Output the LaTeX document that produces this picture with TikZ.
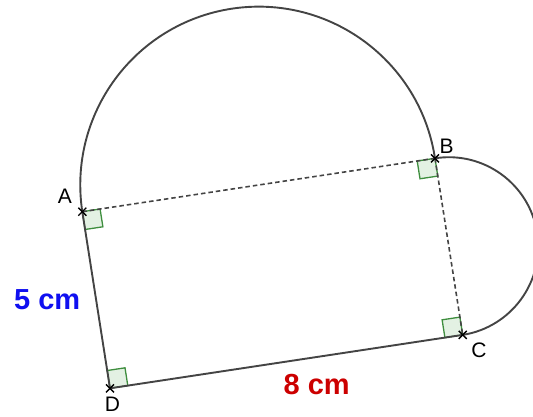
\documentclass[tikz,border=0pt]{standalone}
\usepackage{fontspec}
\setmainfont{Liberation Sans}
\usetikzlibrary{calc}
\definecolor{linegray}{HTML}{444444}
\definecolor{sqgreen}{HTML}{3E8E3E}
\definecolor{sqfill}{HTML}{E3F1E3}
\definecolor{myblue}{HTML}{1010F0}
\definecolor{myred}{HTML}{CC0000}
\begin{document}
\begin{tikzpicture}[x=1pt,y=1pt,
  solidline/.style={draw=linegray,line width=1.9pt},
  dashline/.style={draw=linegray,line width=1.6pt,dash pattern=on 4.5pt off 3pt},
  rightangle/.style={draw=sqgreen,fill=sqfill,line width=1.3pt,line join=miter},
  ptlabel/.style={font=\fontsize{21}{24}\selectfont,inner sep=0pt,anchor=center},
  measure/.style={font=\fontsize{29}{32}\selectfont\bfseries,inner sep=0pt,anchor=center},
  crossmark/.style={draw=black,line width=1.4pt}]
\useasboundingbox (0,0) rectangle (533,416);
\coordinate (A) at (82.3,204.3);
\coordinate (B) at (435,257.7);
\coordinate (D) at (110,27.7);
\coordinate (C) at ($(B)+(D)-(A)$);
\coordinate (M) at ($(A)!0.5!(B)$);
\coordinate (N) at ($(B)!0.5!(C)$);
% right angle squares
\foreach \p/\q/\r in {A/B/D, B/C/A, C/D/B, D/A/C}{
  \draw[rightangle] (\p) -- ($(\p)!18pt!(\q)$) -- ($(\p)!18pt!(\q)+(\p)!18pt!(\r)-(\p)$) -- ($(\p)!18pt!(\r)$) -- cycle;
}
% rectangle sides
\draw[dashline] (A) -- (B);
\draw[dashline] (B) -- (C);
\draw[solidline] (A) -- (D);
\draw[solidline] (D) -- (C);
% semicircles
\draw[solidline] (A) arc[start angle=188.61,end angle=8.61,radius=178.35];
\draw[solidline] (B) arc[start angle=98.91,end angle=-81.09,radius=89.38];
% crosses
\foreach \p in {A,B,C,D}{
  \draw[crossmark] ($(\p)+(-4,-4)$) -- ($(\p)+(4,4)$);
  \draw[crossmark] ($(\p)+(-4,4)$) -- ($(\p)+(4,-4)$);
}
% labels
\node[ptlabel] (lA) at (65,219.3) {A};
\node[ptlabel] (lB) at (446.7,269.3) {B};
\node[ptlabel] (lC) at (479,66) {C};
\node[ptlabel] (lD) at (112.5,11.5) {D};
\node[measure,text=myblue] (l5) at (47.2,116) {5 cm};
\node[measure,text=myred] (l8) at (316.7,31) {8 cm};
\end{tikzpicture}
\end{document}
